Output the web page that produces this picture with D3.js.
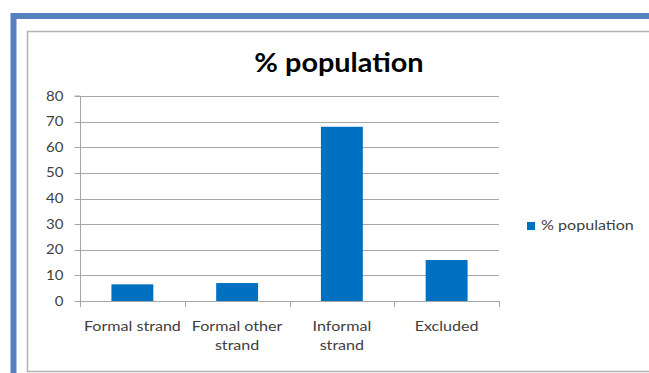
<!DOCTYPE html>
<html><head><meta charset="utf-8">
<script src="https://cdn.jsdelivr.net/npm/d3@7"></script>
<style>
html,body{margin:0;padding:0;background:#fff;overflow:hidden}
text{font-family:Lato,"Open Sans",sans-serif}
</style></head>
<body><svg id="c" width="649" height="373"></svg>
<script>
const categories = [["Formal strand"], ["Formal other", "strand"], ["Informal", "strand"], ["Excluded"]];
const values = [6.5, 7, 68, 16];
const yTicks = [0, 10, 20, 30, 40, 50, 60, 70, 80];
const seriesName = "% population";
const title = "% population";

(function () {
const svg = d3.select("#c");
const SX = 1.15; // horizontal stretch of the source image's text
// outer blue frame
svg.append("path").attr("d", "M13.5,400 V16 H700").attr("fill","none")
  .attr("stroke","#5582be").attr("stroke-width",6);
// inner chart border
svg.append("rect").attr("x",27.5).attr("y",31.5).attr("width",700).attr("height",340)
  .attr("fill","#fff").attr("stroke","#b3b3b3").attr("stroke-width",1.5);

const pL = 80, pR = 499, pT = 96, pB = 301;
const keys = categories.map(c => c.join(" "));
const x = d3.scaleBand().domain(keys).range([pL, pR]).paddingInner(0.6).paddingOuter(0.3);
const y = d3.scaleLinear().domain([0, 80]).range([pB, pT]);

// gridlines
svg.append("g").selectAll("line").data(yTicks.filter(t => t > 0)).join("line")
  .attr("x1", pL).attr("x2", pR)
  .attr("y1", d => Math.round(y(d)) + 0.5).attr("y2", d => Math.round(y(d)) + 0.5)
  .attr("stroke", "#a6a6a6").attr("stroke-width", 1);

// y axis (line + ticks through d3 axis)
const ya = svg.append("g").attr("transform", `translate(${pL + 0.5},0)`)
  .call(d3.axisLeft(y).tickValues(yTicks).tickSize(6).tickFormat(""));
ya.select(".domain").attr("stroke", "#a6a6a6").attr("d", `M-6,${y(80)}H0V${pB + 0.5}`);
ya.selectAll(".tick line").attr("stroke", "#a6a6a6");
ya.selectAll(".tick").attr("transform", d => `translate(0,${Math.round(y(d)) + 0.5})`);
ya.selectAll(".tick text").remove();
svg.append("g").selectAll("text").data(yTicks).join("text")
  .attr("transform", d => `translate(63.5,${y(d) + 4.5}) scale(1.2,1)`)
  .attr("text-anchor", "end").attr("fill", "#404040").style("font-size", "12.5px")
  .text(d3.format("d"));

// x axis
const step = x.step();
const bounds = [pL].concat(keys.map(k => x(k) + x.bandwidth() / 2 + step / 2));
const xa = svg.append("g");
xa.append("line").attr("x1", pL).attr("x2", pR).attr("y1", pB + 0.5).attr("y2", pB + 0.5)
  .attr("stroke", "#a6a6a6");
xa.selectAll("line.tk").data(bounds).join("line").attr("class", "tk")
  .attr("x1", d => Math.round(d) + 0.5).attr("x2", d => Math.round(d) + 0.5)
  .attr("y1", pB).attr("y2", pB + 6).attr("stroke", "#a6a6a6");

// bars
svg.append("g").selectAll("rect").data(values).join("rect")
  .attr("x", (d, i) => x(keys[i])).attr("width", x.bandwidth())
  .attr("y", d => y(d)).attr("height", d => y(0) - y(d))
  .attr("fill", "#0070c0");

// x labels
const lab = svg.append("g").selectAll("text").data(categories).join("text")
  .attr("transform", (d, i) => `translate(${x(keys[i]) + x.bandwidth() / 2},331) scale(${SX},1)`)
  .attr("text-anchor", "middle")
  .attr("fill", "#404040").style("font-size", "14px");
lab.selectAll("tspan").data(d => d).join("tspan")
  .attr("x", 0).attr("dy", (d, i) => i === 0 ? 0 : 19).text(d => d);

// title
svg.append("text").attr("transform", `translate(339,72) scale(1.11,1)`).attr("text-anchor", "middle")
  .attr("fill", "#000").style("font-size", "26px").style("font-weight", "bold").text(title);

// legend
const lg = svg.append("g");
lg.append("rect").attr("x", 527).attr("y", 222).attr("width", 8).attr("height", 8).attr("fill", "#0070c0");
lg.append("text").attr("transform", `translate(541,230) scale(${SX},1)`).attr("fill", "#404040")
  .style("font-size", "14px").text(seriesName);
})();
</script></body></html>
